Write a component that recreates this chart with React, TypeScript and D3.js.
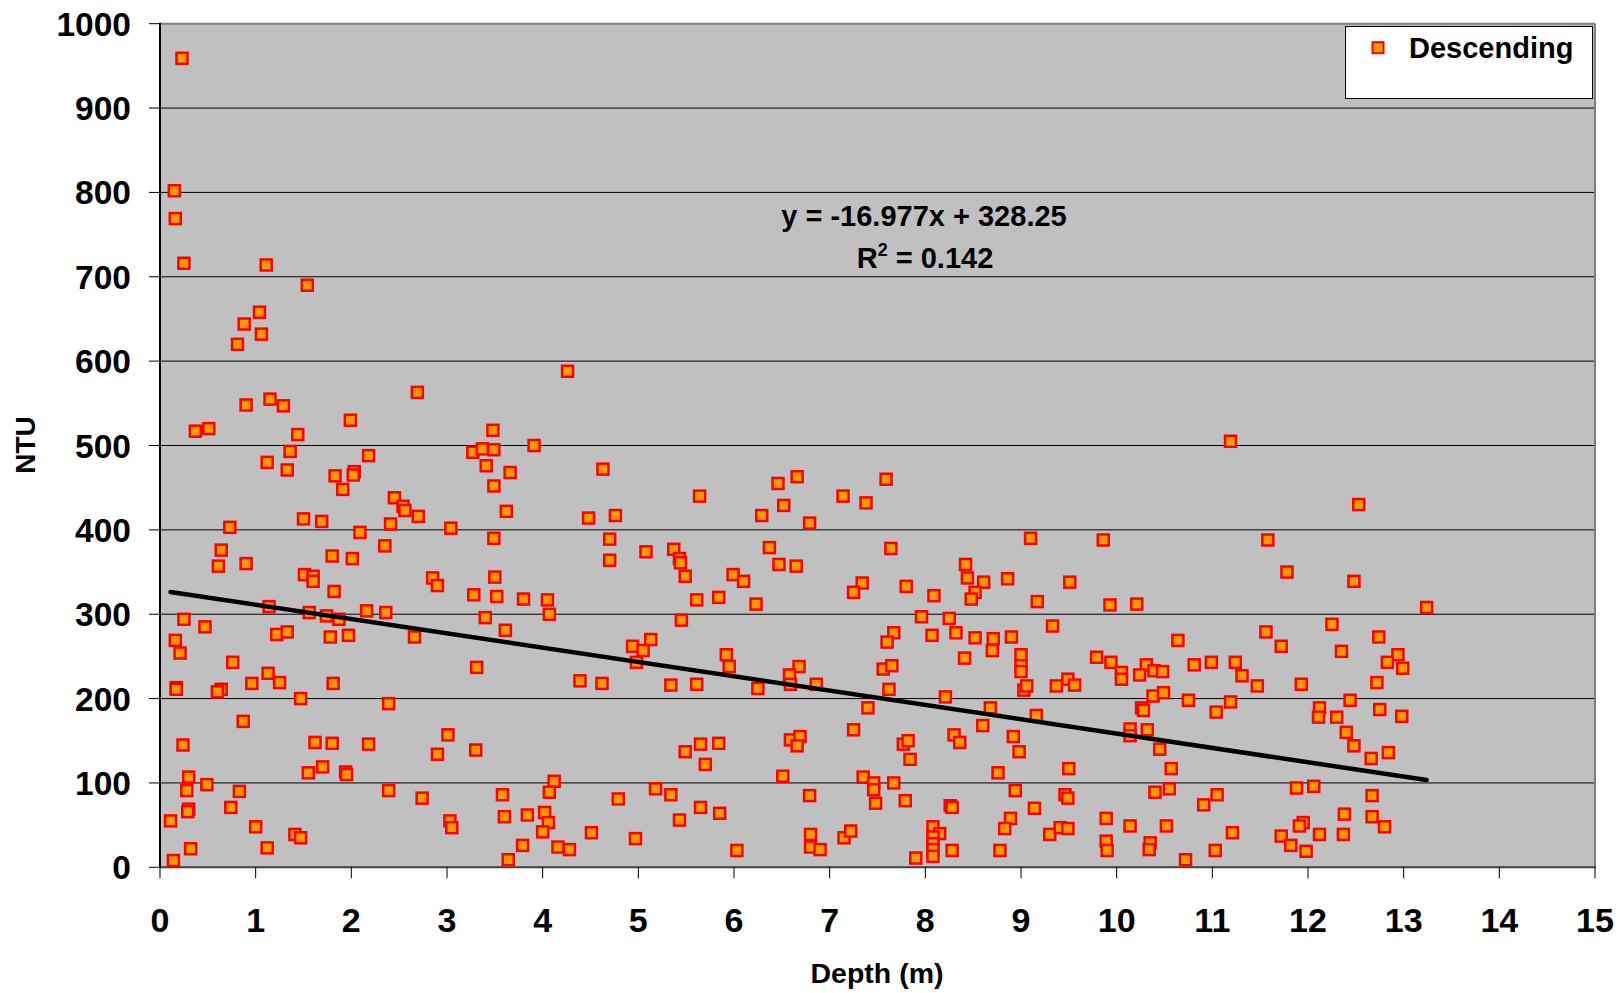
import React from "react";
import * as d3 from "d3";

// Depth (m) and NTU readings, "Descending" series
const depth: number[] = [
  0.23, 0.15, 0.16, 0.25, 1.11, 1.54, 1.04, 0.88, 1.06, 0.81, 4.26, 2.69, 0.9, 1.15, 1.29, 1.99, 0.51, 0.37, 1.44, 3.48,
  1.36, 1.12, 1.33, 2.18, 1.83, 2.03, 2.02, 1.91, 2.45, 2.54, 2.56, 2.7, 2.41, 3.04, 1.5, 1.69, 0.73, 2.09, 2.35, 0.64,
  0.61, 0.9, 1.8, 2.01, 1.51, 1.6, 1.6, 1.82, 2.85, 2.9, 3.27, 3.37, 3.49, 3.41, 3.66, 3.49, 3.62, 3.49, 3.5, 3.28,
  3.52, 3.4, 3.61, 1.14, 1.56, 1.74, 1.87, 2.16, 2.36, 0.25, 0.47, 0.16, 0.21, 1.22, 1.33, 1.78, 1.97, 2.66,
  0.76, 1.13, 0.96, 1.25, 0.17, 0.17, 0.64, 0.6, 1.81, 1.47, 2.39, 3.31, 0.87, 0.24, 1.62, 1.8, 2.18, 3.01, 2.9, 3.3,
  0.3, 0.28, 0.49, 0.83, 1.55, 1.7, 1.94, 1.95, 0.3, 0.29, 0.74, 0.11, 2.39, 2.74, 3.03, 3.05, 3.58, 3.6, 3.64, 1.0,
  1.41, 1.47, 1.12, 0.32, 0.14,
  3.91, 4.63, 4.48, 4.76, 5.64, 6.46, 6.66, 6.52, 6.29, 6.79, 7.14, 7.38, 4.7, 4.7, 5.08, 5.37, 5.43, 5.44, 5.49, 6.37,
  6.47, 6.65, 5.99, 6.1, 7.34, 7.25, 3.8, 4.05, 4.07, 5.61, 5.84, 6.23, 5.45, 4.94, 5.05, 5.13,
  4.98, 5.92, 5.95, 6.68, 6.58, 6.59, 6.86, 6.25, 4.39, 4.62, 5.34, 5.61, 7.4, 7.25, 5.49, 5.65, 5.84, 5.7, 6.59, 6.69,
  6.66, 6.51, 7.35, 7.46, 7.46, 7.48, 4.12, 4.07, 4.79, 5.18, 5.34, 5.65, 5.85, 5.43, 6.79, 4.02, 4.06, 4.0, 3.84, 3.79,
  4.16, 4.28, 4.51, 4.97, 6.03, 6.8, 6.8, 6.9, 7.15, 7.22,
  11.19, 7.59, 7.64, 9.1, 9.86, 8.42, 8.44, 8.61, 8.86, 9.51, 7.8, 8.09, 8.52, 8.48, 9.17, 9.93, 10.21, 7.96, 8.25, 9.33,
  10.64, 7.67, 7.6, 8.07, 8.32, 8.52, 8.71, 8.9, 8.7,
  8.41, 9.0, 9.0, 9.0, 9.79, 9.94, 10.05, 10.05, 10.31, 10.39, 10.48, 10.24, 10.81, 10.99, 11.24, 7.56, 7.65, 7.62, 8.21, 9.03,
  9.06, 9.37, 9.49, 9.56, 10.38, 10.49, 10.75, 11.19, 11.04, 10.26, 10.28, 8.68, 9.16, 8.6, 10.14, 10.32, 10.14, 10.45, 10.57, 8.3,
  8.36, 8.92, 8.98, 7.77, 7.82, 7.84, 8.76, 9.5, 7.67, 7.79, 8.94, 9.46, 9.49, 10.4, 10.55, 10.91, 11.05, 8.26, 8.28, 9.14,
  8.89, 8.83, 9.89, 10.14, 10.52, 11.21, 9.3, 9.41, 9.49, 8.08, 8.15, 8.08, 8.08, 8.08, 8.08, 7.9, 8.28, 8.78, 9.89, 9.9,
  10.35, 10.34, 10.72, 11.03,
  12.53, 11.58, 11.78, 12.48, 13.24, 11.56, 11.72, 12.25, 12.74,
  12.35, 12.94, 12.83, 12.99, 11.31, 11.47, 11.93, 12.72, 12.12, 12.11, 12.3, 12.44, 12.75, 12.98, 12.4, 12.48, 12.66, 12.84, 11.88, 12.06,
  12.67, 12.38, 12.67, 12.8, 11.95, 11.91, 11.72, 12.12, 12.37, 11.82, 11.98,
];

const ntu: number[] = [
  959, 802, 769, 716, 714, 690, 658, 644, 632, 620, 588, 563, 548, 555, 547, 530, 520, 517, 513, 518,
  493, 480, 471, 488, 464, 469, 465, 448, 438, 428, 423, 416, 407, 402, 413, 410, 403, 397, 381, 376,
  357, 360, 369, 366, 347, 345, 339, 327, 343, 334, 492, 496, 495, 476, 468, 452, 422, 390, 344, 323,
  321, 296, 281, 309, 302, 298, 294, 304, 302, 294, 285, 269, 254, 276, 279, 273, 275, 273,
  243, 230, 218, 219, 213, 211, 211, 208, 218, 200, 194, 237, 173, 145, 148, 147, 146, 157, 134, 139,
  107, 91, 98, 90, 112, 119, 113, 110, 69, 66, 71, 55, 91, 82, 55, 47, 86, 60, 9, 48,
  39, 35, 23, 22, 8,
  500, 472, 414, 417, 440, 455, 463, 429, 417, 408, 440, 432, 389, 364, 374, 377, 366, 361, 345, 379,
  359, 357, 347, 339, 337, 326, 318, 317, 300, 317, 320, 312, 293, 262, 257, 270,
  243, 252, 238, 238, 228, 217, 217, 212, 221, 218, 216, 217, 189, 163, 137, 146, 147, 122, 151, 155,
  144, 108, 107, 100, 92, 76, 102, 89, 81, 93, 86, 71, 64, 56, 85, 65, 53, 42, 62, 26,
  24, 21, 41, 34, 20, 39, 24, 21, 35, 43,
  505, 460, 378, 390, 388, 359, 343, 338, 342, 338, 333, 322, 326, 318, 315, 311, 312, 297, 295, 286,
  269, 278, 267, 275, 278, 272, 271, 273, 257,
  248, 252, 239, 232, 249, 243, 231, 223, 240, 233, 232, 228, 240, 243, 243, 235, 239, 211, 202, 210,
  215, 215, 223, 216, 203, 207, 198, 196, 184, 189, 186, 189, 180, 168, 164, 163, 156, 140, 117, 157,
  148, 155, 137, 146, 150, 128, 112, 117, 100, 79, 91, 86, 82, 89, 93, 74, 86, 73, 71, 70,
  58, 46, 58, 49, 49, 41, 39, 47, 46, 48, 40, 36, 28, 21, 13, 11, 20, 20, 31, 20,
  29, 21, 9, 20,
  430, 388, 350, 339, 308, 279, 262, 288, 273,
  256, 252, 243, 236, 227, 215, 217, 219, 189, 178, 178, 198, 187, 179, 160, 144, 129, 136, 94, 96,
  85, 63, 60, 48, 53, 49, 37, 39, 39, 26, 19,
];

const xTicks: number[] = [0, 1, 2, 3, 4, 5, 6, 7, 8, 9, 10, 11, 12, 13, 14, 15];
const yTicks: number[] = [0, 100, 200, 300, 400, 500, 600, 700, 800, 900, 1000];

const seriesName = "Descending";
const xTitle = "Depth (m)";
const yTitle = "NTU";
const slope = -16.977;
const intercept = 328.25;
const eqText = "y = -16.977x + 328.25";
const r2Value = "0.142";

const W = 1622;
const H = 993;
const FONT = "'Liberation Sans', Arial, Helvetica, sans-serif";

export default function App() {
  const left = 160;
  const right = 1595;
  const top = 23.7;
  const bottom = 867.3;

  const x = d3.scaleLinear().domain([0, 15]).range([left, right]);
  const y = d3.scaleLinear().domain([0, 1000]).range([bottom, top]);

  const points = depth.map((d, i) => ({ d, v: ntu[i] }));
  const [xmin, xmax] = d3.extent(depth) as [number, number];
  const trend = d3
    .line<number>()
    .x((d) => x(d))
    .y((d) => y(slope * d + intercept));

  const ms = 11; // marker inner size

  return (
    <svg
      width={W}
      height={H}
      style={{ position: "absolute", left: 0, top: 0, display: "block", background: "#fff" }}
      fontFamily={FONT}
    >
      <rect x={0} y={0} width={W} height={H} fill="#fff" />
      {/* plot area */}
      <rect x={left} y={top} width={right - left} height={bottom - top} fill="#C0C0C0" />
      {/* gridlines */}
      {yTicks.slice(1, -1).map((t) => (
        <line key={"g" + t} x1={left} x2={right} y1={y(t)} y2={y(t)} stroke="#000" strokeWidth={1} />
      ))}
      {/* border top/right */}
      <line x1={left} x2={right} y1={top} y2={top} stroke="#808080" strokeWidth={2} />
      <line x1={right} x2={right} y1={top} y2={bottom} stroke="#808080" strokeWidth={2} />
      {/* axes */}
      <line x1={left} x2={right + 1} y1={bottom} y2={bottom} stroke="#404040" strokeWidth={2} />
      <line x1={left} x2={left} y1={top - 1} y2={bottom + 1} stroke="#000" strokeWidth={2} />
      {/* y ticks */}
      {yTicks.map((t) => (
        <g key={"y" + t}>
          <line x1={left - 11} x2={left} y1={y(t)} y2={y(t)} stroke="#000" strokeWidth={1} />
          <text
            x={131}
            y={y(t)}
            dy="0.36em"
            textAnchor="end"
            fontSize={33.5}
            fontWeight="bold"
            fill="#000"
          >
            {t}
          </text>
        </g>
      ))}
      {/* x ticks */}
      {xTicks.map((t) => (
        <g key={"x" + t}>
          <line x1={x(t)} x2={x(t)} y1={bottom} y2={bottom + 11} stroke="#000" strokeWidth={1} />
          <text x={x(t)} y={931.5} textAnchor="middle" fontSize={34} fontWeight="bold" fill="#000">
            {t}
          </text>
        </g>
      ))}
      {/* axis titles */}
      <text x={877} y={983} textAnchor="middle" fontSize={28.5} fontWeight="bold" fill="#000">
        {xTitle}
      </text>
      <text
        transform={`translate(35, 445) rotate(-90)`}
        textAnchor="middle"
        fontSize={28}
        fontWeight="bold"
        fill="#000"
      >
        {yTitle}
      </text>
      {/* points */}
      {points.map((p, i) => (
        <rect
          key={i}
          x={x(p.d) - ms / 2}
          y={y(p.v) - ms / 2}
          width={ms}
          height={ms}
          fill="#FF9900"
          stroke="#FF0000"
          strokeWidth={2.5}
        />
      ))}
      {/* trendline */}
      <path d={trend([xmin, xmax]) || ""} stroke="#000" strokeWidth={4.5} fill="none" strokeLinecap="round" />
      {/* equation */}
      <text x={924} y={226} textAnchor="middle" fontSize={29} fontWeight="bold" fill="#000">
        {eqText}
      </text>
      <text x={925} y={268} textAnchor="middle" fontSize={29} fontWeight="bold" fill="#000">
        R<tspan fontSize={18} dy={-12}>2</tspan>
        <tspan dy={12}>{" = " + r2Value}</tspan>
      </text>
      {/* legend */}
      <rect x={1345.5} y={26.5} width={247} height={72} fill="#fff" stroke="#000" strokeWidth={1} />
      <rect x={1378 - 5.5} y={47.7 - 5.5} width={11} height={11} fill="#FF9900" stroke="#FF0000" strokeWidth={2} />
      <text x={1409} y={58} fontSize={29} fontWeight="bold" fill="#000">
        {seriesName}
      </text>
    </svg>
  );
}
